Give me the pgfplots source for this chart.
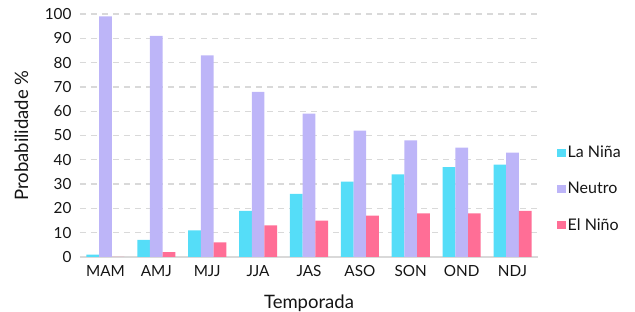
\documentclass[border=0pt]{standalone}
\usepackage{fontspec}
\setmainfont{Lato}
\usepackage{pgfplots}
\pgfplotsset{compat=1.18}
\definecolor{nina}{HTML}{55DDF8}
\definecolor{neutro}{HTML}{BDB5F8}
\definecolor{nino}{HTML}{FF6E96}
\definecolor{gridc}{HTML}{D9D9D9}
\definecolor{txt}{HTML}{151515}
\begin{document}
\begin{tikzpicture}
\useasboundingbox (0pt,0pt) rectangle (635pt,312pt);
\begin{axis}[
  at={(80pt,55pt)}, anchor=south west,
  scale only axis, width=458pt, height=243pt,
  ybar=0pt, bar width=12.7pt,
  xmin=-0.5, xmax=8.5, ymin=0, ymax=100,
  xtick={0,...,8},
  xticklabels={MAM,AMJ,MJJ,JJA,JAS,ASO,SON,OND,NDJ},
  ytick={0,10,...,100},
  major tick length=0pt,
  axis x line*=bottom, axis y line*=left,
  x axis line style={draw=gridc, line width=1.5pt, -},
  y axis line style={draw=none},
  ymajorgrids,
  major grid style={draw=gridc, line width=1.3pt, dash pattern=on 6pt off 5pt},
  /pgf/number format/assume math mode=true,
  tick label style={font=\fontsize{15.3}{17}\selectfont, text=txt},
  y tick label style={xshift=-5pt},
  x tick label style={yshift=-5pt},
  xlabel={Temporada}, ylabel={Probabilidade \%},
  label style={font=\fontsize{18.5}{21}\selectfont, text=txt},
  xlabel style={at={(axis description cs:0.5,-0.19)}, anchor=center},
  ylabel style={at={(axis description cs:-0.128,0.5)}, anchor=center, rotate=0},
  legend style={at={(1.035,0.28)}, anchor=west, draw=none, fill=none,
    font=\fontsize{16}{18}\selectfont, text=txt, row sep=19pt,
    /tikz/every even column/.append style={column sep=1pt}},
  legend cell align=left,
  area legend,
  legend image code/.code={\fill[#1] (0pt,-4.2pt) rectangle (8.5pt,4.2pt);},
]
\addplot[fill=nina, draw=none] coordinates {(0,1) (1,7) (2,11) (3,19) (4,26) (5,31) (6,34) (7,37) (8,38)};
\addplot[fill=neutro, draw=none] coordinates {(0,99) (1,91) (2,83) (3,68) (4,59) (5,52) (6,48) (7,45) (8,43)};
\addplot[fill=nino, draw=none] coordinates {(0,0) (1,2) (2,6) (3,13) (4,15) (5,17) (6,18) (7,18) (8,19)};
\legend{La Niña, Neutro, El Niño}
\end{axis}
\end{tikzpicture}
\end{document}
